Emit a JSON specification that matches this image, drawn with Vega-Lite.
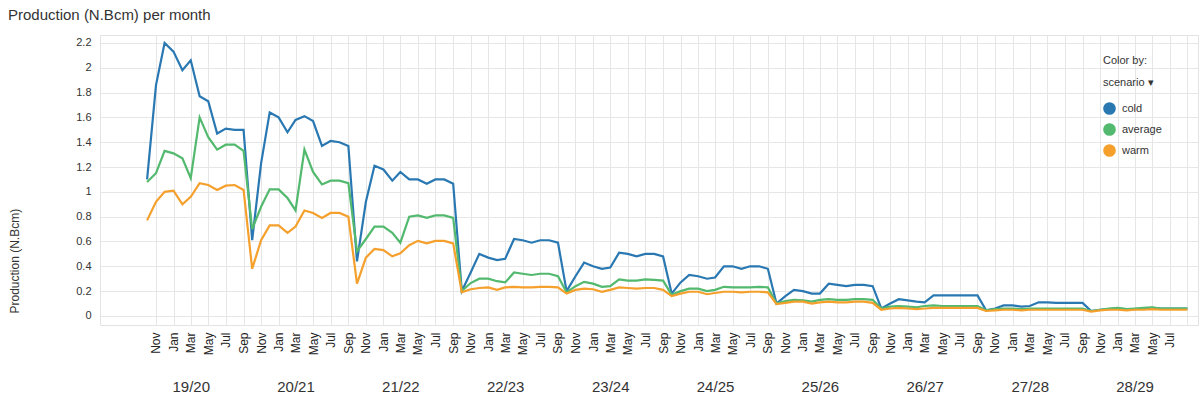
{
  "$schema": "https://vega.github.io/schema/vega-lite/v6.json",
  "autosize": "none",
  "width": 1098,
  "height": 290,
  "padding": {"left": 100, "top": 35, "right": 5, "bottom": 76},
  "background": "white",
  "config": {"view": {"stroke": "#e3e3e3"}, "font": "Liberation Sans"},
  "title": {"text": "Production (N.Bcm) per month", "anchor": "start", "frame": "group", "dx": -92, "offset": 12, "fontSize": 15, "fontWeight": "normal", "color": "#333333", "font": "Liberation Sans"},
  "resolve": {"scale": {"x": "independent"}, "axis": {"x": "independent"}},
  "layer": [
    {
      "data": {"values": [
        {"m":"2019-10-01","cold":1.10,"average":1.08,"warm":0.77},
        {"m":"2019-11-01","cold":1.86,"average":1.15,"warm":0.92},
        {"m":"2019-12-01","cold":2.20,"average":1.33,"warm":1.00},
        {"m":"2020-01-01","cold":2.13,"average":1.31,"warm":1.01},
        {"m":"2020-02-01","cold":1.98,"average":1.27,"warm":0.90},
        {"m":"2020-03-01","cold":2.06,"average":1.11,"warm":0.96},
        {"m":"2020-04-01","cold":1.77,"average":1.60,"warm":1.07},
        {"m":"2020-05-01","cold":1.73,"average":1.44,"warm":1.055},
        {"m":"2020-06-01","cold":1.47,"average":1.34,"warm":1.015},
        {"m":"2020-07-01","cold":1.51,"average":1.38,"warm":1.05},
        {"m":"2020-08-01","cold":1.50,"average":1.38,"warm":1.055},
        {"m":"2020-09-01","cold":1.50,"average":1.33,"warm":1.015},
        {"m":"2020-10-01","cold":0.61,"average":0.70,"warm":0.38},
        {"m":"2020-11-01","cold":1.23,"average":0.88,"warm":0.61},
        {"m":"2020-12-01","cold":1.64,"average":1.02,"warm":0.73},
        {"m":"2021-01-01","cold":1.60,"average":1.02,"warm":0.73},
        {"m":"2021-02-01","cold":1.48,"average":0.95,"warm":0.67},
        {"m":"2021-03-01","cold":1.58,"average":0.85,"warm":0.72},
        {"m":"2021-04-01","cold":1.61,"average":1.34,"warm":0.85},
        {"m":"2021-05-01","cold":1.57,"average":1.16,"warm":0.83},
        {"m":"2021-06-01","cold":1.37,"average":1.06,"warm":0.79},
        {"m":"2021-07-01","cold":1.41,"average":1.09,"warm":0.83},
        {"m":"2021-08-01","cold":1.40,"average":1.09,"warm":0.83},
        {"m":"2021-09-01","cold":1.37,"average":1.07,"warm":0.80},
        {"m":"2021-10-01","cold":0.44,"average":0.52,"warm":0.26},
        {"m":"2021-11-01","cold":0.92,"average":0.62,"warm":0.47},
        {"m":"2021-12-01","cold":1.21,"average":0.72,"warm":0.54},
        {"m":"2022-01-01","cold":1.18,"average":0.72,"warm":0.53},
        {"m":"2022-02-01","cold":1.09,"average":0.67,"warm":0.48},
        {"m":"2022-03-01","cold":1.16,"average":0.59,"warm":0.505},
        {"m":"2022-04-01","cold":1.10,"average":0.80,"warm":0.57},
        {"m":"2022-05-01","cold":1.10,"average":0.81,"warm":0.605},
        {"m":"2022-06-01","cold":1.065,"average":0.79,"warm":0.585},
        {"m":"2022-07-01","cold":1.10,"average":0.81,"warm":0.605},
        {"m":"2022-08-01","cold":1.10,"average":0.81,"warm":0.605},
        {"m":"2022-09-01","cold":1.065,"average":0.79,"warm":0.585},
        {"m":"2022-10-01","cold":0.20,"average":0.20,"warm":0.19},
        {"m":"2022-11-01","cold":0.35,"average":0.265,"warm":0.215},
        {"m":"2022-12-01","cold":0.50,"average":0.30,"warm":0.225},
        {"m":"2023-01-01","cold":0.47,"average":0.30,"warm":0.23},
        {"m":"2023-02-01","cold":0.45,"average":0.28,"warm":0.21},
        {"m":"2023-03-01","cold":0.46,"average":0.27,"warm":0.23},
        {"m":"2023-04-01","cold":0.62,"average":0.35,"warm":0.235},
        {"m":"2023-05-01","cold":0.61,"average":0.34,"warm":0.23},
        {"m":"2023-06-01","cold":0.59,"average":0.33,"warm":0.23},
        {"m":"2023-07-01","cold":0.61,"average":0.34,"warm":0.235},
        {"m":"2023-08-01","cold":0.61,"average":0.34,"warm":0.235},
        {"m":"2023-09-01","cold":0.59,"average":0.32,"warm":0.23},
        {"m":"2023-10-01","cold":0.20,"average":0.19,"warm":0.18},
        {"m":"2023-11-01","cold":0.32,"average":0.24,"warm":0.21},
        {"m":"2023-12-01","cold":0.43,"average":0.275,"warm":0.22},
        {"m":"2024-01-01","cold":0.40,"average":0.26,"warm":0.215},
        {"m":"2024-02-01","cold":0.38,"average":0.235,"warm":0.195},
        {"m":"2024-03-01","cold":0.39,"average":0.24,"warm":0.21},
        {"m":"2024-04-01","cold":0.51,"average":0.295,"warm":0.23},
        {"m":"2024-05-01","cold":0.50,"average":0.285,"warm":0.225},
        {"m":"2024-06-01","cold":0.48,"average":0.285,"warm":0.22},
        {"m":"2024-07-01","cold":0.50,"average":0.295,"warm":0.225},
        {"m":"2024-08-01","cold":0.50,"average":0.29,"warm":0.225},
        {"m":"2024-09-01","cold":0.48,"average":0.285,"warm":0.21},
        {"m":"2024-10-01","cold":0.18,"average":0.17,"warm":0.16},
        {"m":"2024-11-01","cold":0.27,"average":0.20,"warm":0.18},
        {"m":"2024-12-01","cold":0.33,"average":0.22,"warm":0.195},
        {"m":"2025-01-01","cold":0.32,"average":0.22,"warm":0.195},
        {"m":"2025-02-01","cold":0.30,"average":0.20,"warm":0.175},
        {"m":"2025-03-01","cold":0.31,"average":0.21,"warm":0.185},
        {"m":"2025-04-01","cold":0.40,"average":0.235,"warm":0.195},
        {"m":"2025-05-01","cold":0.40,"average":0.23,"warm":0.195},
        {"m":"2025-06-01","cold":0.38,"average":0.23,"warm":0.19},
        {"m":"2025-07-01","cold":0.40,"average":0.23,"warm":0.195},
        {"m":"2025-08-01","cold":0.40,"average":0.235,"warm":0.195},
        {"m":"2025-09-01","cold":0.38,"average":0.23,"warm":0.19},
        {"m":"2025-10-01","cold":0.10,"average":0.10,"warm":0.095},
        {"m":"2025-11-01","cold":0.16,"average":0.12,"warm":0.105},
        {"m":"2025-12-01","cold":0.21,"average":0.13,"warm":0.115},
        {"m":"2026-01-01","cold":0.20,"average":0.125,"warm":0.115},
        {"m":"2026-02-01","cold":0.18,"average":0.115,"warm":0.10},
        {"m":"2026-03-01","cold":0.18,"average":0.13,"warm":0.11},
        {"m":"2026-04-01","cold":0.26,"average":0.135,"warm":0.115},
        {"m":"2026-05-01","cold":0.25,"average":0.13,"warm":0.11},
        {"m":"2026-06-01","cold":0.24,"average":0.13,"warm":0.11},
        {"m":"2026-07-01","cold":0.25,"average":0.135,"warm":0.115},
        {"m":"2026-08-01","cold":0.25,"average":0.135,"warm":0.115},
        {"m":"2026-09-01","cold":0.24,"average":0.13,"warm":0.105},
        {"m":"2026-10-01","cold":0.06,"average":0.06,"warm":0.05},
        {"m":"2026-11-01","cold":0.10,"average":0.075,"warm":0.06},
        {"m":"2026-12-01","cold":0.135,"average":0.08,"warm":0.065},
        {"m":"2027-01-01","cold":0.125,"average":0.075,"warm":0.06},
        {"m":"2027-02-01","cold":0.115,"average":0.07,"warm":0.055},
        {"m":"2027-03-01","cold":0.11,"average":0.08,"warm":0.06},
        {"m":"2027-04-01","cold":0.165,"average":0.085,"warm":0.065},
        {"m":"2027-05-01","cold":0.165,"average":0.08,"warm":0.065},
        {"m":"2027-06-01","cold":0.165,"average":0.08,"warm":0.065},
        {"m":"2027-07-01","cold":0.165,"average":0.08,"warm":0.065},
        {"m":"2027-08-01","cold":0.165,"average":0.08,"warm":0.065},
        {"m":"2027-09-01","cold":0.165,"average":0.08,"warm":0.065},
        {"m":"2027-10-01","cold":0.045,"average":0.045,"warm":0.04},
        {"m":"2027-11-01","cold":0.06,"average":0.055,"warm":0.045},
        {"m":"2027-12-01","cold":0.085,"average":0.06,"warm":0.05},
        {"m":"2028-01-01","cold":0.085,"average":0.06,"warm":0.05},
        {"m":"2028-02-01","cold":0.075,"average":0.055,"warm":0.045},
        {"m":"2028-03-01","cold":0.08,"average":0.06,"warm":0.05},
        {"m":"2028-04-01","cold":0.11,"average":0.06,"warm":0.05},
        {"m":"2028-05-01","cold":0.11,"average":0.06,"warm":0.05},
        {"m":"2028-06-01","cold":0.105,"average":0.06,"warm":0.05},
        {"m":"2028-07-01","cold":0.105,"average":0.06,"warm":0.05},
        {"m":"2028-08-01","cold":0.105,"average":0.06,"warm":0.05},
        {"m":"2028-09-01","cold":0.105,"average":0.06,"warm":0.05},
        {"m":"2028-10-01","cold":0.04,"average":0.04,"warm":0.035},
        {"m":"2028-11-01","cold":0.05,"average":0.05,"warm":0.045},
        {"m":"2028-12-01","cold":0.055,"average":0.06,"warm":0.05},
        {"m":"2029-01-01","cold":0.06,"average":0.065,"warm":0.05},
        {"m":"2029-02-01","cold":0.055,"average":0.055,"warm":0.045},
        {"m":"2029-03-01","cold":0.055,"average":0.06,"warm":0.05},
        {"m":"2029-04-01","cold":0.06,"average":0.065,"warm":0.05},
        {"m":"2029-05-01","cold":0.065,"average":0.07,"warm":0.055},
        {"m":"2029-06-01","cold":0.06,"average":0.06,"warm":0.05},
        {"m":"2029-07-01","cold":0.06,"average":0.06,"warm":0.05},
        {"m":"2029-08-01","cold":0.06,"average":0.06,"warm":0.05},
        {"m":"2029-09-01","cold":0.06,"average":0.06,"warm":0.05}
      ]},
      "transform": [{"fold": ["cold", "average", "warm"], "as": ["scenario", "production"]}],
      "mark": {"type": "line", "strokeWidth": 2.2, "clip": true},
      "encoding": {
        "x": {
          "field": "m", "type": "temporal",
          "scale": {"type": "utc", "nice": false, "domain": [{"year": 2019, "month": 4, "date": 20, "utc": true}, {"year": 2029, "month": 10, "date": 8, "utc": true}]},
          "axis": {
            "orient": "bottom", "title": null,
            "values": [
              {"year":2019,"month":11,"date":1,"utc":true},
              {"year":2020,"month":1,"date":1,"utc":true},{"year":2020,"month":3,"date":1,"utc":true},{"year":2020,"month":5,"date":1,"utc":true},{"year":2020,"month":7,"date":1,"utc":true},{"year":2020,"month":9,"date":1,"utc":true},{"year":2020,"month":11,"date":1,"utc":true},
              {"year":2021,"month":1,"date":1,"utc":true},{"year":2021,"month":3,"date":1,"utc":true},{"year":2021,"month":5,"date":1,"utc":true},{"year":2021,"month":7,"date":1,"utc":true},{"year":2021,"month":9,"date":1,"utc":true},{"year":2021,"month":11,"date":1,"utc":true},
              {"year":2022,"month":1,"date":1,"utc":true},{"year":2022,"month":3,"date":1,"utc":true},{"year":2022,"month":5,"date":1,"utc":true},{"year":2022,"month":7,"date":1,"utc":true},{"year":2022,"month":9,"date":1,"utc":true},{"year":2022,"month":11,"date":1,"utc":true},
              {"year":2023,"month":1,"date":1,"utc":true},{"year":2023,"month":3,"date":1,"utc":true},{"year":2023,"month":5,"date":1,"utc":true},{"year":2023,"month":7,"date":1,"utc":true},{"year":2023,"month":9,"date":1,"utc":true},{"year":2023,"month":11,"date":1,"utc":true},
              {"year":2024,"month":1,"date":1,"utc":true},{"year":2024,"month":3,"date":1,"utc":true},{"year":2024,"month":5,"date":1,"utc":true},{"year":2024,"month":7,"date":1,"utc":true},{"year":2024,"month":9,"date":1,"utc":true},{"year":2024,"month":11,"date":1,"utc":true},
              {"year":2025,"month":1,"date":1,"utc":true},{"year":2025,"month":3,"date":1,"utc":true},{"year":2025,"month":5,"date":1,"utc":true},{"year":2025,"month":7,"date":1,"utc":true},{"year":2025,"month":9,"date":1,"utc":true},{"year":2025,"month":11,"date":1,"utc":true},
              {"year":2026,"month":1,"date":1,"utc":true},{"year":2026,"month":3,"date":1,"utc":true},{"year":2026,"month":5,"date":1,"utc":true},{"year":2026,"month":7,"date":1,"utc":true},{"year":2026,"month":9,"date":1,"utc":true},{"year":2026,"month":11,"date":1,"utc":true},
              {"year":2027,"month":1,"date":1,"utc":true},{"year":2027,"month":3,"date":1,"utc":true},{"year":2027,"month":5,"date":1,"utc":true},{"year":2027,"month":7,"date":1,"utc":true},{"year":2027,"month":9,"date":1,"utc":true},{"year":2027,"month":11,"date":1,"utc":true},
              {"year":2028,"month":1,"date":1,"utc":true},{"year":2028,"month":3,"date":1,"utc":true},{"year":2028,"month":5,"date":1,"utc":true},{"year":2028,"month":7,"date":1,"utc":true},{"year":2028,"month":9,"date":1,"utc":true},{"year":2028,"month":11,"date":1,"utc":true},
              {"year":2029,"month":1,"date":1,"utc":true},{"year":2029,"month":3,"date":1,"utc":true},{"year":2029,"month":5,"date":1,"utc":true},{"year":2029,"month":7,"date":1,"utc":true},{"year":2029,"month":9,"date":1,"utc":true}
            ],
            "labelExpr": "datum.value > utc(2029, 7, 15) ? '' : utcFormat(datum.value, '%b')",
            "labelAngle": 270,
            "labelFontSize": 12,
            "labelColor": "#222222",
            "labelPadding": 7,
            "labelOverlap": false,
            "labelFlush": false,
            "labelBound": false,
            "ticks": false,
            "domain": false,
            "grid": true,
            "gridColor": "#e6e6e6",
            "gridWidth": 1
          }
        },
        "y": {
          "field": "production", "type": "quantitative",
          "scale": {"domain": [-0.073, 2.264], "nice": false, "zero": false},
          "axis": {
            "title": "Production (N.Bcm)",
            "values": [0, 0.2, 0.4, 0.6, 0.8, 1, 1.2, 1.4, 1.6, 1.8, 2, 2.2],
            "format": "~g",
            "labelFontSize": 11,
            "labelColor": "#333333",
            "labelPadding": 9,
            "ticks": false,
            "domain": false,
            "grid": true,
            "gridColor": "#e6e6e6",
            "titleFontSize": 12,
            "titleFontWeight": "normal",
            "titleColor": "#333333",
            "titleAngle": 270,
            "titleAlign": "left",
            "titleBaseline": "bottom",
            "titleX": -79,
            "titleY": 278
          }
        },
        "color": {
          "field": "scenario", "type": "nominal",
          "scale": {"domain": ["cold", "average", "warm"], "range": ["#2a78b2", "#52b96e", "#f5a02c"]},
          "legend": {
            "orient": "none",
            "legendX": 1003,
            "legendY": 20,
            "title": ["Color by:", "scenario ▾"],
            "titleFontSize": 11,
            "titleFontWeight": "normal",
            "titleColor": "#333333",
            "titleLineHeight": 22,
            "titlePadding": 14,
            "symbolType": "circle",
            "symbolSize": 160,
            "symbolStrokeWidth": 0,
            "labelFontSize": 11,
            "labelColor": "#333333",
            "labelOffset": 6,
            "rowPadding": 8,
            "encode": {
              "symbols": {"update": {"fill": {"scale": "color", "field": "value"}, "strokeWidth": {"value": 0}, "opacity": {"value": 1}}}
            }
          }
        }
      }
    },
    {
      "data": {"values": [
        {"gasYear": "19/20", "mid": "2020-03-01"},
        {"gasYear": "20/21", "mid": "2021-03-01"},
        {"gasYear": "21/22", "mid": "2022-03-01"},
        {"gasYear": "22/23", "mid": "2023-03-01"},
        {"gasYear": "23/24", "mid": "2024-03-01"},
        {"gasYear": "24/25", "mid": "2025-03-01"},
        {"gasYear": "25/26", "mid": "2026-03-01"},
        {"gasYear": "26/27", "mid": "2027-03-01"},
        {"gasYear": "27/28", "mid": "2028-03-01"},
        {"gasYear": "28/29", "mid": "2029-03-01"}
      ]},
      "mark": {"type": "rule", "strokeOpacity": 0},
      "encoding": {
        "x": {
          "field": "mid", "type": "temporal",
          "scale": {"type": "utc", "nice": false, "domain": [{"year": 2019, "month": 4, "date": 20, "utc": true}, {"year": 2029, "month": 10, "date": 8, "utc": true}]},
          "axis": {
            "orient": "bottom",
            "offset": 56,
            "title": null,
            "values": [
              {"year":2020,"month":3,"date":1,"utc":true},{"year":2021,"month":3,"date":1,"utc":true},{"year":2022,"month":3,"date":1,"utc":true},{"year":2023,"month":3,"date":1,"utc":true},{"year":2024,"month":3,"date":1,"utc":true},
              {"year":2025,"month":3,"date":1,"utc":true},{"year":2026,"month":3,"date":1,"utc":true},{"year":2027,"month":3,"date":1,"utc":true},{"year":2028,"month":3,"date":1,"utc":true},{"year":2029,"month":3,"date":1,"utc":true}
            ],
            "labelExpr": "((utcyear(datum.value) - 1) % 100) + '/' + (utcyear(datum.value) % 100)",
            "labelAngle": 0,
            "labelBaseline": "middle",
            "labelPadding": 5,
            "labelFontSize": 15,
            "labelColor": "#333333",
            "labelOverlap": false,
            "labelFlush": false,
            "ticks": false,
            "domain": false,
            "grid": false
          }
        }
      }
    }
  ]
}
